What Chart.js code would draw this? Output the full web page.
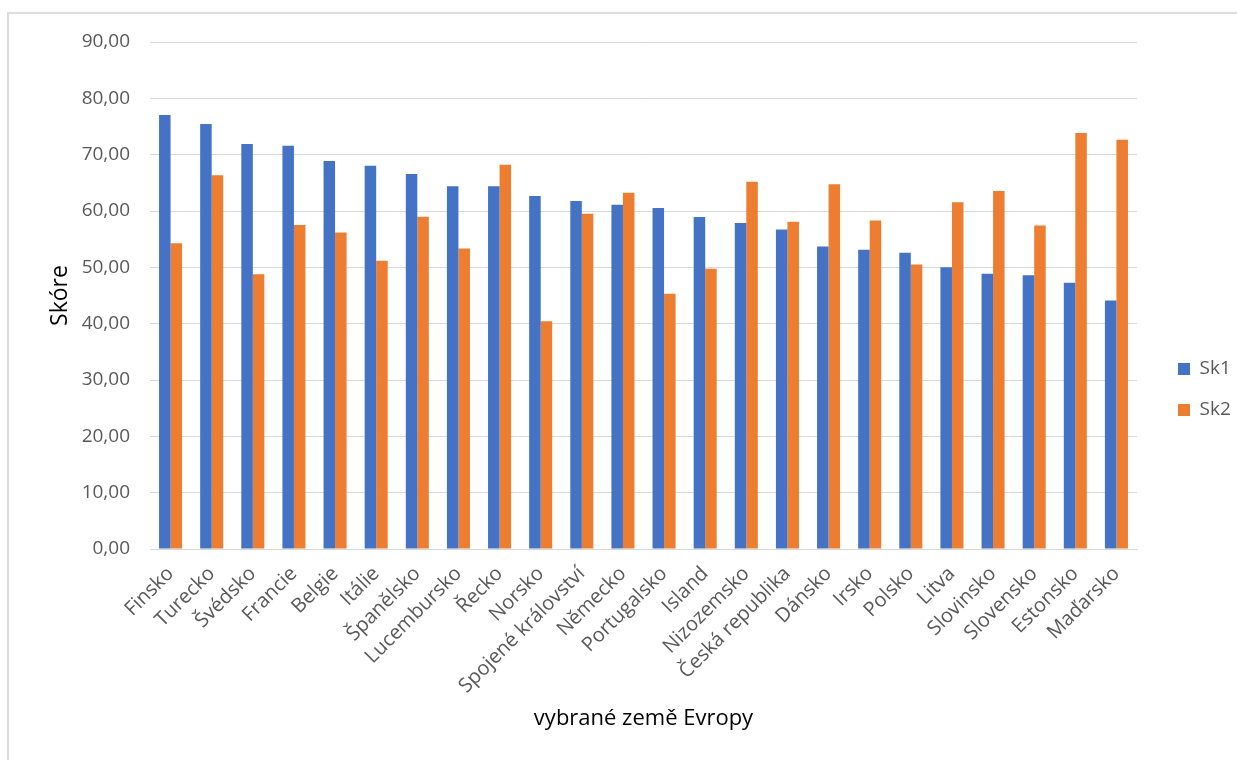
<!DOCTYPE html>
<html lang="cs">
<head>
<meta charset="utf-8">
<title>Skóre vybraných zemí Evropy</title>
<script src="https://cdn.jsdelivr.net/npm/chart.js@4.4.1/dist/chart.umd.min.js"></script>
<style>
  html, body { margin: 0; padding: 0; background: #ffffff; }
  body { width: 1237px; height: 760px; position: relative; overflow: hidden; }
  #frame {
    position: absolute; left: 7px; top: 12px;
    width: 1228px; height: 746px;
    border-left: 2px solid #dcdcdc; border-top: 2px solid #dcdcdc;
  }
  #chart { display: block; }
</style>
</head>
<body>
<div id="frame"><canvas id="chart" width="1228" height="746"></canvas></div>
<script>
// Countries, ordered by the Sk1 score
const categories = [
  'Finsko', 'Turecko', 'Švédsko', 'Francie', 'Belgie', 'Itálie', 'Španělsko',
  'Lucembursko', 'Řecko', 'Norsko', 'Spojené království', 'Německo', 'Portugalsko',
  'Island', 'Nizozemsko', 'Česká republika', 'Dánsko', 'Irsko', 'Polsko', 'Litva',
  'Slovinsko', 'Slovensko', 'Estonsko', 'Maďarsko'
];

const sk1 = [77.04, 75.44, 71.89, 71.60, 68.88, 68.05, 66.58, 64.38, 64.38, 62.68, 61.79, 61.13,
             60.55, 58.95, 57.89, 56.70, 53.69, 53.10, 52.57, 50.02, 48.84, 48.60, 47.25, 44.11];
const sk2 = [54.27, 66.34, 48.78, 57.53, 56.17, 51.15, 59.00, 53.33, 68.23, 40.44, 59.49, 63.26,
             45.30, 49.73, 65.21, 58.07, 64.73, 58.30, 50.50, 61.54, 63.55, 57.41, 73.85, 72.66];

const seriesNames = ['Sk1', 'Sk2'];
const yTicks = { min: 0, max: 90, step: 10 };

const FONT = "'Open Sans', 'Liberation Sans', sans-serif";
const TEXT = '#595959';
const GRID = '#d9d9d9';

// Keeps the legend at a fixed width and nudges it right of the plot
const legendPlacement = {
  id: 'legendPlacement',
  beforeInit(chart) {
    const legend = chart.legend;
    if (!legend) return;
    const fit = legend.fit;
    legend.fit = function () {
      fit.call(this);
      this.width = 100;
    };
  },
  afterLayout(chart) {
    const legend = chart.legend;
    if (!legend) return;
    legend.left += 19;
    legend.right += 19;
  }
};

new Chart(document.getElementById('chart'), {
  type: 'bar',
  data: {
    labels: categories,
    datasets: [
      { label: seriesNames[0], data: sk1, backgroundColor: '#4472C4' },
      { label: seriesNames[1], data: sk2, backgroundColor: '#ED7D31' }
    ]
  },
  options: {
    responsive: false,
    animation: false,
    devicePixelRatio: 1,
    layout: { padding: { top: 28, right: 0, bottom: 23, left: 0 } },
    datasets: {
      bar: { categoryPercentage: 0.56, barPercentage: 1.0 }
    },
    scales: {
      x: {
        grid: { display: false, drawTicks: false },
        border: { display: true, color: GRID, width: 1 },
        ticks: {
          color: TEXT,
          font: { family: FONT, size: 20 },
          maxRotation: 45, minRotation: 45,
          autoSkip: false,
          padding: 13
        },
        title: {
          display: true,
          text: 'vybrané země Evropy',
          color: '#000000',
          font: { family: FONT, size: 22 },
          padding: { top: 0, bottom: 5 }
        },
        afterFit(scale) { scale.height = 188; }
      },
      y: {
        min: yTicks.min,
        max: yTicks.max,
        grid: { color: GRID, lineWidth: 1, drawTicks: false },
        border: { display: false },
        ticks: {
          stepSize: yTicks.step,
          color: TEXT,
          font: { family: FONT, size: 19 },
          padding: 20,
          callback: v => v.toFixed(2).replace('.', ',')
        },
        title: {
          display: true,
          text: 'Skóre',
          color: '#000000',
          font: { family: FONT, size: 23 },
          padding: { top: 38, bottom: 38 }
        },
        afterFit(scale) {
          scale.width = 141;
          scale.paddingTop = 0;
          scale.paddingBottom = 0;
        }
      }
    },
    plugins: {
      legend: {
        position: 'right',
        align: 'center',
        labels: {
          boxWidth: 12,
          boxHeight: 12,
          padding: 22,
          color: TEXT,
          font: { family: FONT, size: 19 }
        }
      },
      tooltip: { enabled: false }
    }
  },
  plugins: [legendPlacement]
});
</script>
</body>
</html>
